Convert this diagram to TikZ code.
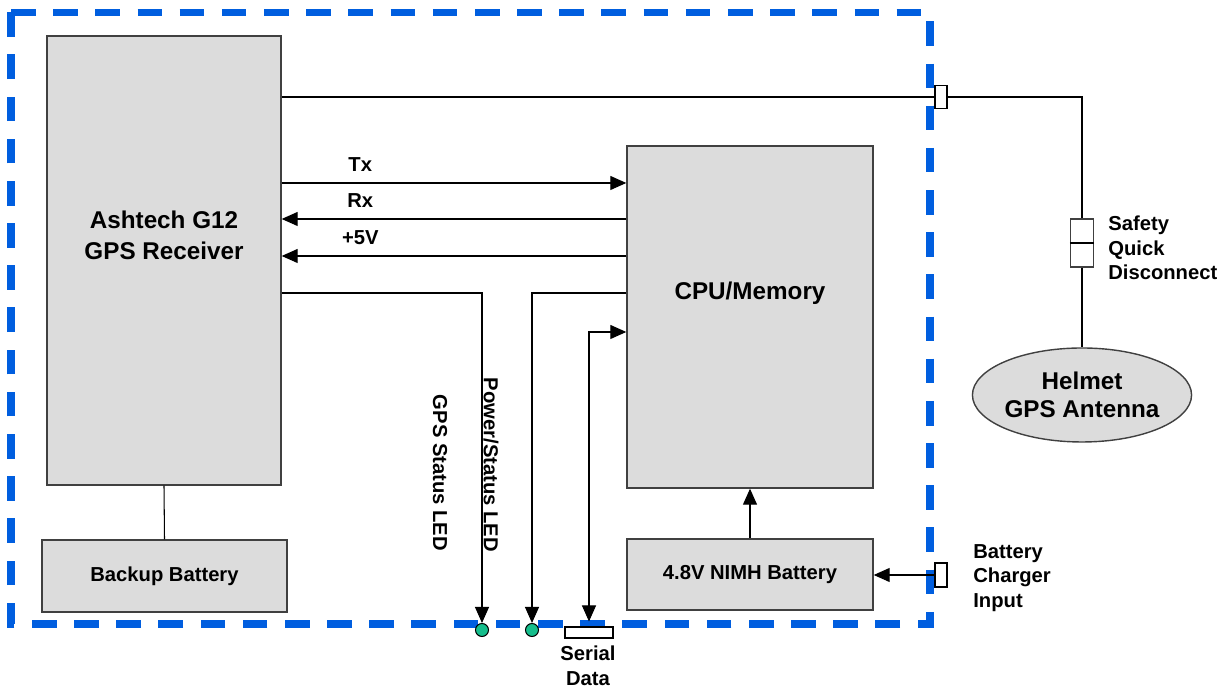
\documentclass[tikz,border=0pt]{standalone}
\usepackage{fontspec}
\setmainfont{Liberation Sans}
\usepackage{tikz}
\usetikzlibrary{shapes,arrows.meta,positioning,calc}
\usepackage{xcolor}
\definecolor{boxgray}{RGB}{220,220,220}
\definecolor{boxline}{RGB}{64,64,64}
\definecolor{borderblue}{RGB}{0,94,223}
\definecolor{ledgreen}{RGB}{22,190,140}

\begin{document}
\begin{tikzpicture}[
    every node/.style={font=\fontsize{11.5}{14}\selectfont\bfseries},
    unit/.style={draw=boxline, line width=0.8pt, fill=boxgray, inner sep=0pt},
    bigtext/.style={font=\fontsize{13.8}{17.6}\selectfont\bfseries, align=center, inner sep=0pt},
    plug/.style={draw=black, line width=0.6pt, fill=white, inner sep=0pt},
    led/.style={circle, draw=black, line width=0.6pt, fill=ledgreen, inner sep=0pt, minimum size=2.6mm},
    wire/.style={black, line width=0.6pt},
    sig/.style={wire, -{Triangle[length=3.2mm, width=2.8mm]}}
]
\useasboundingbox (0,0) rectangle (24.56,13.78);

% ==== Enclosure outline ====
\draw[borderblue, line width=4pt, dash pattern=on 14pt off 10pt]
    (0.22,13.53) -- (18.6,13.53) -- (18.6,1.3) -- (0.22,1.3) -- cycle;

% ==== Main units ====
\node[unit, minimum width=4.68cm, minimum height=8.98cm] (gps)  at (3.28, 8.57) {};
\node[bigtext] (gpstxt) at (3.28, 9.08) {Ashtech G12\\GPS Receiver};
\node[unit, minimum width=4.9cm, minimum height=1.44cm]
    (bkp)  at (3.29, 2.26)  {Backup Battery};
\node[unit, minimum width=4.92cm, minimum height=6.84cm] (cpu) at (15.0, 7.44) {};
\node[bigtext] (cputxt) at (15.0, 7.92) {CPU/Memory};
\node[unit, minimum width=4.92cm, minimum height=1.42cm]
    (nimh) at (15.0, 2.29)  {4.8V NIMH Battery};

% ==== Connectors on the enclosure ====
\node[plug, minimum width=0.24cm, minimum height=0.46cm] (antc) at (18.82, 11.84) {};
\node[plug, minimum width=0.24cm, minimum height=0.48cm] (chg)  at (18.82, 2.28)  {};
\node[plug, minimum width=0.96cm, minimum height=0.22cm] (ser)  at (11.78, 1.13)  {};
\node[led] (gled) at (9.64, 1.18) {};
\node[led] (pled) at (10.64, 1.18) {};

% ==== Antenna side ====
\node[plug, draw=boxline, line width=0.8pt, minimum width=0.46cm, minimum height=0.96cm]
    (sqd) at (21.64, 8.92) {};
\draw[black, line width=1.4pt] (sqd.west) -- (sqd.east);
\node[ellipse, unit, align=center, font=\fontsize{13.8}{16}\selectfont\bfseries,
      minimum width=4.0cm, minimum height=1.88cm]
    (helmet) at (21.64, 5.88) {Helmet\\GPS Antenna};

% ==== Text labels ====
\node[anchor=west, align=left, inner sep=0pt] (sqdtxt) at (22.16, 8.82) {Safety\\Quick\\Disconnect};
\node[anchor=west, align=left, inner sep=0pt] (chgtxt) at (19.46, 2.22) {Battery\\Charger\\Input};
\node[align=center, inner sep=0pt] (sertxt) at (11.76, 0.47) {Serial\\Data};
\node[rotate=-90, inner sep=0pt] (gledtxt) at (8.8, 4.32)  {GPS Status LED};
\node[rotate=-90, inner sep=0pt] (pledtxt) at (9.82, 4.48) {Power/Status LED};

% ==== Signal lines ====
\coordinate (txlvl)  at (0, 10.12);
\coordinate (rxlvl)  at (0, 9.40);
\coordinate (pwrlvl) at (0, 8.66);
\coordinate (ledlvl) at (0, 7.92);
\coordinate (serlvl) at (0, 7.14);
\draw[sig] (gps.east |- txlvl) -- (cpu.west |- txlvl) node[pos=0.228, above=1mm] {Tx};
\draw[sig] (cpu.west |- rxlvl) -- (gps.east |- rxlvl) node[pos=0.772, above=1mm] {Rx};
\draw[sig] (cpu.west |- pwrlvl) -- (gps.east |- pwrlvl) node[pos=0.772, above=1mm] {+5V};
\draw[sig] (gps.east |- ledlvl) -| (gled.north);
\draw[sig] (cpu.west |- ledlvl) -| (pled.north);
\draw[wire, {Triangle[length=3.2mm, width=2.8mm]}-{Triangle[length=3.2mm, width=2.8mm]}]
    ([yshift=1mm]ser.north) |- (cpu.west |- serlvl);
\draw[sig] (nimh.north) -- (cpu.south);
\draw[sig] (chg.west) -- (nimh.east |- chg);
\draw[wire] (gps.south) -- (bkp.north);

% ==== Antenna cable ====
\draw[wire] (gps.east |- antc) -- (antc.west);
\draw[wire] (antc.east) -| (sqd.north);
\draw[wire] (sqd.south) -- (helmet.north);
\end{tikzpicture}
\end{document}
